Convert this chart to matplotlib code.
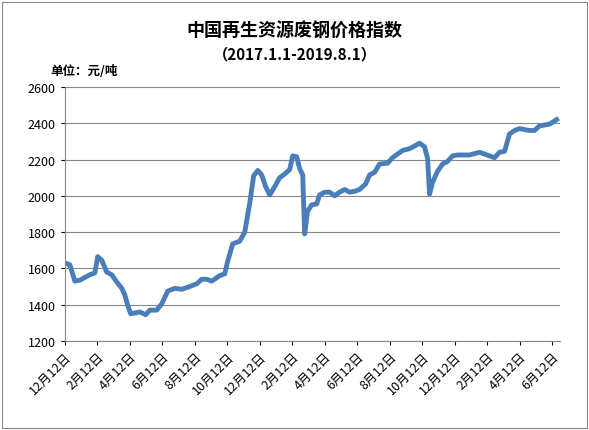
import matplotlib
matplotlib.use("Agg")
import matplotlib.pyplot as plt
from matplotlib.patches import Rectangle

plt.rcParams['font.family'] = ['Noto Sans CJK SC', 'DejaVu Sans']

# months since 2016-12-12
px = [65,70,75,80,90,95,98,102,107,112,117,122,125,128,131,140,146,150,157,162,168,175,182,190,197,202,207,212,220,225,228,233,240,245,250,254,258,262,266,270,275,280,285,290,293,297,300,303,305,308,312,317,320,325,330,335,340,345,350,355,360,366,370,375,380,388,393,398,403,410,415,420,425,428,430,433,438,443,448,453,458,470,480,485,490,495,500,505,510,515,520,530,535,540,550,557]
months = [round((p - 65) / 16.25, 2) for p in px]
values = [1630,1620,1530,1535,1565,1575,1665,1645,1580,1565,1525,1490,1455,1395,1350,1360,1345,1370,1370,1405,1475,1490,1485,1500,1515,1540,1540,1530,1560,1570,1640,1735,1750,1800,1955,2110,2140,2115,2050,2005,2050,2100,2120,2145,2220,2215,2150,2115,1790,1915,1950,1955,2005,2020,2020,2000,2020,2035,2020,2025,2035,2065,2115,2130,2175,2180,2210,2230,2250,2260,2275,2290,2270,2205,2010,2075,2135,2175,2190,2220,2225,2225,2240,2230,2220,2210,2240,2245,2340,2360,2370,2360,2360,2385,2395,2420]
tick_pos = list(range(0, 31, 2))
tick_labels = ['12月12日','2月12日','4月12日','6月12日','8月12日','10月12日']*2 + ['12月12日','2月12日','4月12日','6月12日']
tick_labels = tick_labels[:16]

fig = plt.figure(figsize=(5.89, 4.31), dpi=100)
fig.patches.append(Rectangle((0.004, 0.004), 0.992, 0.99, transform=fig.transFigure,
                             fill=False, edgecolor='#888888', lw=0.8))
ax = fig.add_axes([0.110, 0.2065, 0.841, 0.5895])
ax.plot(months, values, color='#4a7ebb', lw=3.5, solid_joinstyle='round')
ax.set_xlim(0, 30.5)
ax.set_ylim(1200, 2600)
ax.set_yticks(range(1200, 2601, 200))
ax.set_xticks(tick_pos)
ax.set_xticklabels(tick_labels, rotation=45, ha='right', rotation_mode='anchor', fontsize=9)
ax.tick_params(axis='y', labelsize=9, length=3)
ax.tick_params(axis='x', length=3)
ax.grid(axis='y', color='#888888', lw=0.8)
ax.set_axisbelow(True)
for s in ['top', 'right']:
    ax.spines[s].set_visible(False)
for s in ['left', 'bottom']:
    ax.spines[s].set_color('#888888')
fig.text(0.5, 0.915, '中国再生资源废钢价格指数', ha='center', fontsize=13, fontweight='bold')
fig.text(0.5, 0.862, '（2017.1.1-2019.8.1）', ha='center', fontsize=11, fontweight='bold')
fig.text(0.085, 0.825, '单位：元/吨', ha='left', fontsize=9, fontweight='bold')
fig.savefig('out.png', dpi=100)
